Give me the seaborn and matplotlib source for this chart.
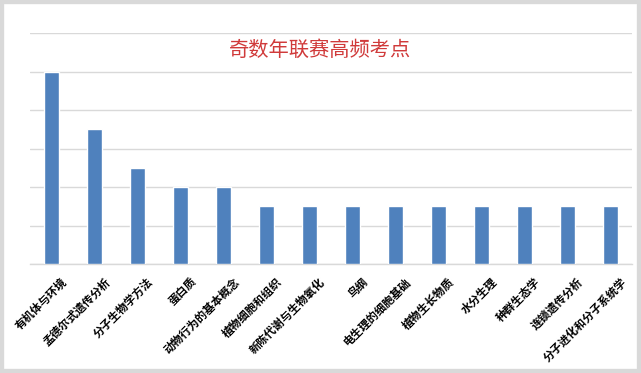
import matplotlib
matplotlib.use("Agg")
import matplotlib.pyplot as plt
import matplotlib.transforms as mtrans
from matplotlib.patches import Rectangle
import seaborn as sns
import pandas as pd

# data
topics = ["有机体与环境", "孟德尔式遗传分析", "分子生物学方法", "蛋白质",
          "动物行为的基本概念", "植物细胞和组织", "新陈代谢与生物氧化", "鸟纲",
          "电生理的细胞基础", "植物生长物质", "水分生理", "种群生态学",
          "连锁遗传分析", "分子进化和分子系统学"]
counts = [10, 7, 5, 4, 4, 3, 3, 3, 3, 3, 3, 3, 3, 3]
yticks = [0, 2, 4, 6, 8, 10, 12]
title = "奇数年联赛高频考点"

dfrm = pd.DataFrame({"topic": topics, "count": counts})

sns.set_theme(style="white")
plt.rcParams['font.family'] = ['Noto Sans CJK SC', 'DejaVu Sans']

fig = plt.figure(figsize=(6.41, 3.73), dpi=100)
ax = fig.add_axes([30 / 641, 1 - 264 / 373, 602 / 641, 231 / 373])

sns.barplot(data=dfrm, x="topic", y="count", color="#4f81bd", saturation=1,
            width=0.33, ax=ax, zorder=3)

ax.set_ylim(0, 12)
ax.set_yticks(yticks)
ax.set_yticklabels([])
ax.yaxis.grid(True, color="#d9d9d9", linewidth=1)
ax.set_axisbelow(True)
for side in ["top", "right", "left"]:
    ax.spines[side].set_visible(False)
ax.spines["bottom"].set_color("#d9d9d9")
ax.spines["bottom"].set_linewidth(1)
ax.set_xlabel("")
ax.set_ylabel("")
ax.tick_params(axis="both", length=0)

# shift the rotated labels so their ends sit just right of each bar
offset = mtrans.ScaledTranslation(14 / 100, -11 / 100, fig.dpi_scale_trans)
ax.set_xticks(range(len(topics)))
ax.set_xticklabels(topics, rotation=45, ha="right", va="center",
                   rotation_mode="anchor", fontsize=8.1, fontweight="bold",
                   color="black")
for label in ax.get_xticklabels():
    label.set_transform(label.get_transform() + offset)

fig.text(320 / 641, 1 - 50 / 373, title, color="#d03a3a", fontsize=14.6,
         ha="center", va="center")

# light gray frame around the picture
fig.patches.append(Rectangle((0, 0), 1, 1, transform=fig.transFigure,
                             fill=False, edgecolor="#d9d9d9", linewidth=6))

fig.savefig("out.png", dpi=100)
